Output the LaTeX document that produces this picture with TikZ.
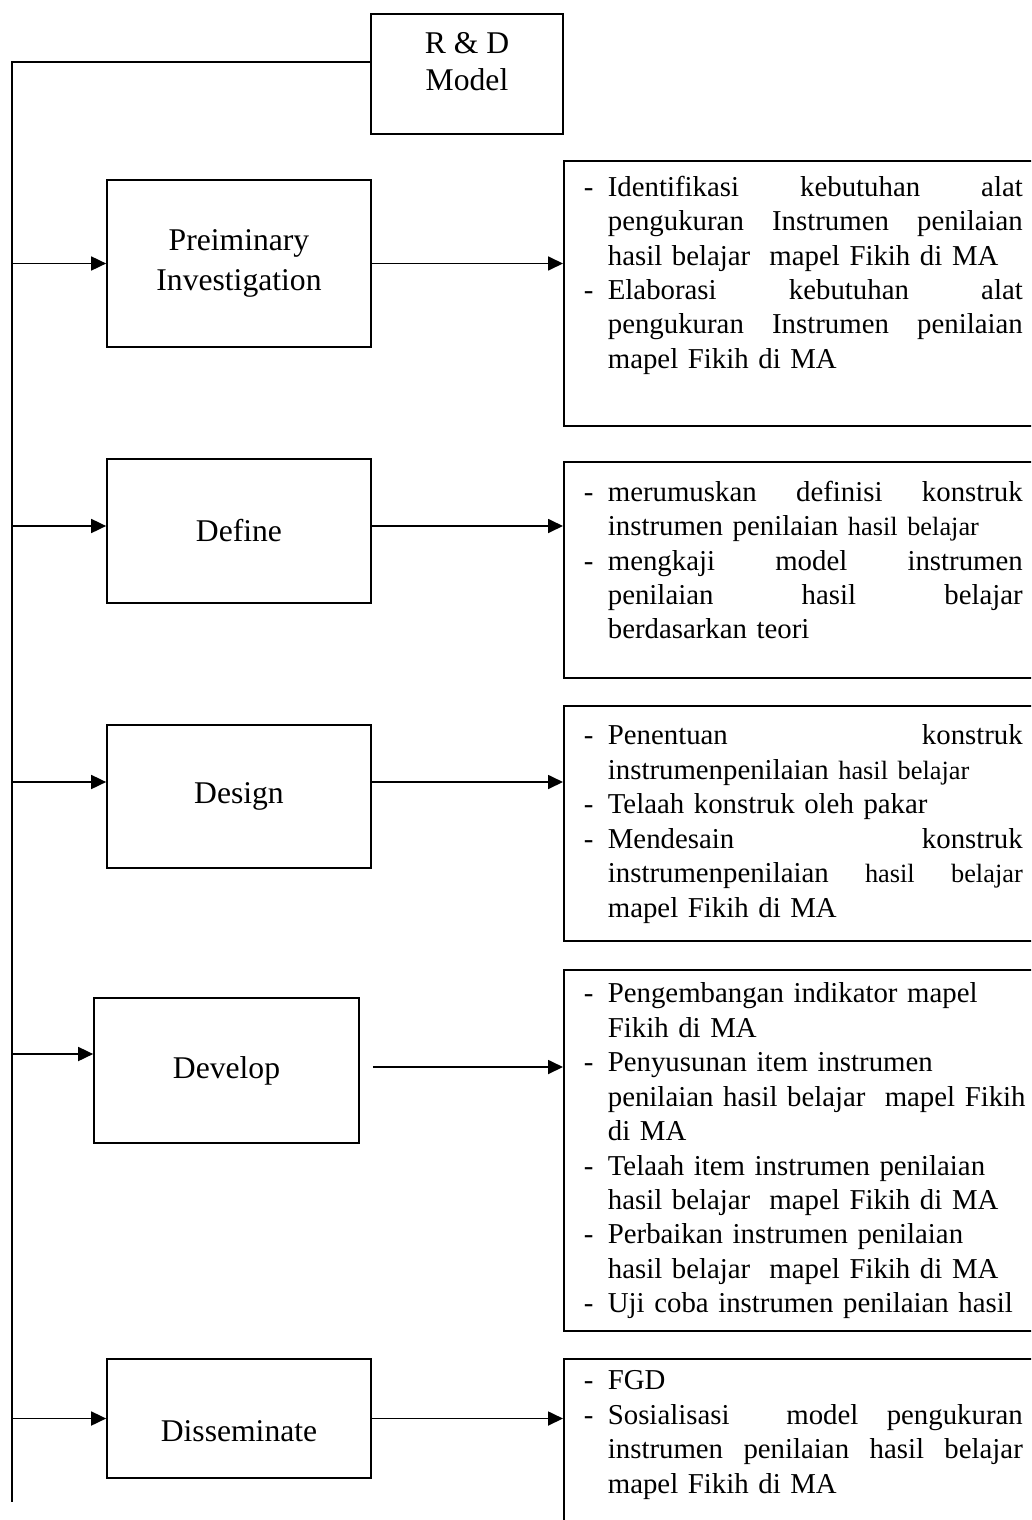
\documentclass[tikz,border=0pt]{standalone}
\usepackage{fontspec}
\setmainfont{Liberation Serif}
\usetikzlibrary{arrows.meta,positioning}

\newlength{\dashw}\setlength{\dashw}{0.48cm}
\newlength{\itemw}\setlength{\itemw}{8.3cm}
\newcommand{\spreadbox}[1]{\makebox[\itemw][s]{\spaceskip=0.25em plus 1fil\xspaceskip=0.25em plus 1fil\relax #1}}
\newcommand{\dashj}[1]{\makebox[\dashw][l]{-}\spreadbox{#1}}
\newcommand{\dashr}[1]{\makebox[\dashw][l]{-}#1}
\newcommand{\contj}[1]{\hspace*{\dashw}\spreadbox{#1}}
\newcommand{\contr}[1]{\hspace*{\dashw}#1}
\newcommand{\smtx}{\fontsize{15pt}{19.6pt}\selectfont}

\begin{document}
\begin{tikzpicture}[x=0.02cm,y=-0.02cm,->,>={Triangle[length=0.3cm,width=0.28cm]},line width=1pt,
					stage node/.style={draw,minimum width=5.28cm,align=center,font=\fontsize{18pt}{21pt}\selectfont},
					list box/.style={draw,anchor=north west,minimum width=10cm},
					list text/.style={inner sep=0pt,text width=9cm,align=left,font=\fontsize{16.4pt}{19.6pt}\selectfont}]

					\useasboundingbox (0,0) rectangle (1031,1520);
					\clip (0,0) rectangle (1031,1520);

					\node[stage node,minimum width=3.84cm,minimum height=2.4cm,text depth=0.5cm] (0) at (467,74) {R \& D\\Model};

					\node[stage node,minimum height=3.34cm,font=\fontsize{18pt}{22.8pt}\selectfont] (1) at (239,263.5) {Preiminary\\Investigation};
					\node[stage node,minimum height=2.88cm] (2) at (239,531) {Define};
					\node[stage node,minimum height=2.86cm] (3) at (239,796.5) {Design};
					\node[stage node,minimum width=5.3cm,minimum height=2.9cm] (4) at (226.5,1070.5) {Develop};
					\node[stage node,minimum height=2.38cm,text height=0.92cm] (5) at (239,1418.5) {Disseminate};

					\node[list box,minimum height=5.3cm] (1b) at (563,160) {};
					\node[list box,minimum height=4.32cm] (2b) at (563,461) {};
					\node[list box,minimum height=4.7cm] (3b) at (563,705) {};
					\node[list box,minimum height=7.22cm] (4b) at (563,969) {};
					\node[list box,minimum height=4.04cm] (5b) at (563,1358) {};

					\node[list text,below right=0.3cm and 0.4cm of 1b.north west] (1t) {%
						\dashj{Identifikasi kebutuhan alat}\\
						\contj{pengukuran Instrumen penilaian}\\
						\contr{hasil belajar~ mapel Fikih di MA}\\
						\dashj{Elaborasi kebutuhan alat}\\
						\contj{pengukuran Instrumen penilaian}\\
						\contr{mapel Fikih di MA}};
					\node[list text,below right=0.38cm and 0.4cm of 2b.north west] (2t) {%
						\dashj{merumuskan definisi konstruk}\\
						\contr{instrumen penilaian {\smtx hasil belajar}}\\
						\dashj{mengkaji model instrumen}\\
						\contj{penilaian hasil belajar}\\
						\contr{berdasarkan teori}};
					\node[list text,below right=0.38cm and 0.4cm of 3b.north west] (3t) {%
						\dashj{Penentuan konstruk}\\
						\contr{instrumenpenilaian {\smtx hasil belajar}}\\
						\dashr{Telaah konstruk oleh pakar}\\
						\dashj{Mendesain konstruk}\\
						\contj{instrumenpenilaian {\smtx hasil belajar}}\\
						\contr{mapel Fikih di MA}};
					\node[list text,below right=0.26cm and 0.4cm of 4b.north west] (4t) {%
						\dashr{Pengembangan indikator mapel}\\
						\contr{Fikih di MA}\\
						\dashr{Penyusunan item instrumen}\\
						\contr{penilaian hasil belajar~ mapel Fikih}\\
						\contr{di MA}\\
						\dashr{Telaah item instrumen penilaian}\\
						\contr{hasil belajar~ mapel Fikih di MA}\\
						\dashr{Perbaikan instrumen penilaian}\\
						\contr{hasil belajar~ mapel Fikih di MA}\\
						\dashr{Uji coba instrumen penilaian hasil}};
					\node[list text,below right=0.24cm and 0.4cm of 5b.north west] (5t) {%
						\dashr{FGD}\\
						\dashj{Sosialisasi~ model pengukuran}\\
						\contj{instrumen penilaian hasil belajar}\\
						\contr{mapel Fikih di MA}};

					% trunk on the left
					\coordinate (top) at (12,62);
					\coordinate (bot) at (12,1502);
					\draw[-] (top -| 0.west) -- (top) -- (bot);

					\coordinate (2in) at ([yshift=0.1cm]2.west);
					\coordinate (3in) at ([yshift=0.29cm]3.west);
					\coordinate (4in) at ([yshift=0.33cm]4.west);
					\coordinate (4out) at ([xshift=0.26cm,yshift=0.07cm]4.east);

					\path
					(top |- 1.west) edge (1.west)
					(top |- 2in) edge (2in)
					(top |- 3in) edge (3in)
					(top |- 4in) edge (4in)
					(top |- 5.west) edge (5.west)
					(1.east) edge (1.east -| 1b.west)
					(2in -| 2.east) edge (2in -| 2b.west)
					(3in -| 3.east) edge (3in -| 3b.west)
					(4out) edge (4out -| 4b.west)
					(5.east) edge (5.east -| 5b.west)
					;
					\end{tikzpicture}
\end{document}
